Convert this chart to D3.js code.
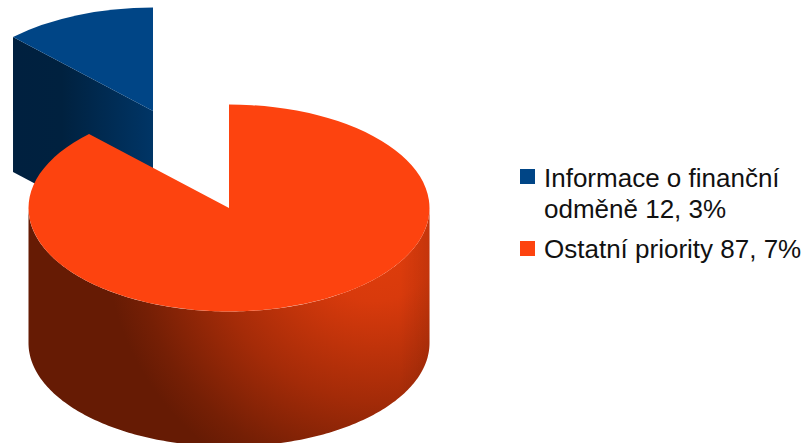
<!DOCTYPE html>
<html><head><meta charset="utf-8">
<script src="https://cdn.jsdelivr.net/npm/d3@7"></script>
<style>html,body{margin:0;padding:0;background:#fff;overflow:hidden}svg{display:block}
text{font-family:"Liberation Sans",Arial,sans-serif;font-size:26px;fill:#111}</style>
</head><body><svg id="c" width="806" height="443"></svg>
<script>
const categories = ["Informace o finanční odměně", "Ostatní priority"];
const values = [12.3, 87.7];
const valueLabels = ["12, 3%", "87, 7%"];
const colors = ["#004586", "#fd430f"];
const legendLines = [["Informace o finanční", "odměně 12, 3%"], ["Ostatní priority 87, 7%"]];

const svg = d3.select("#c");
const rx = 200.5, ry = 103.5, depth = 135;
const centers = [{x:153, y:111}, {x:229, y:208}];

const defs = svg.append("defs");
const gb = defs.append("linearGradient").attr("id","wallBlue").attr("gradientUnits","userSpaceOnUse")
  .attr("x1",13).attr("y1",0).attr("x2",153).attr("y2",0);
[[0,"#00203f"],[0.35,"#00213f"],[1,"#003566"]].forEach(s=>gb.append("stop").attr("offset",s[0]).attr("stop-color",s[1]));
const go = defs.append("radialGradient").attr("id","wallOrange").attr("gradientUnits","userSpaceOnUse")
  .attr("cx",375).attr("cy",235).attr("r",300);
[[0,"#e23e0c"],[0.22,"#d83a0c"],[0.55,"#a42b08"],[0.8,"#751f05"],[0.9,"#661b04"],[1,"#661b04"]].forEach(s=>go.append("stop").attr("offset",s[0]).attr("stop-color",s[1]));
const ge = defs.append("linearGradient").attr("id","wallEdge").attr("gradientUnits","userSpaceOnUse")
  .attr("x1",400).attr("y1",0).attr("x2",430).attr("y2",0);
[[0,"#000",0],[1,"#000",0.1]].forEach(s=>ge.append("stop").attr("offset",s[0]).attr("stop-color",s[1]).attr("stop-opacity",s[2]));

const share0 = values[0] / d3.sum(values) * 2 * Math.PI;
const pie = d3.pie().sort(null).value(d=>d).startAngle(-share0).endAngle(2*Math.PI - share0);
const arcs = pie(values);
const arcGen = d3.arc().innerRadius(0).outerRadius(rx);
const pt = (c,a,dy=0)=>[c.x + rx*Math.sin(a), c.y - ry*Math.cos(a) + dy];
const poly = d3.line();

const bc = centers[0], ba = arcs[0].startAngle;
svg.append("path").attr("fill","url(#wallBlue)")
  .attr("d", poly([pt(bc,ba), [bc.x,bc.y], [bc.x,bc.y+depth], pt(bc,ba,depth)])+"Z");
svg.append("path").attr("fill",colors[0])
  .attr("transform",`translate(${bc.x},${bc.y}) scale(1,${ry/rx})`)
  .attr("d",arcGen(arcs[0]));

const oc = centers[1];
const sweep = d3.range(0,181).map(i=>Math.PI/2 + i*Math.PI/180);
const wall = sweep.map(a=>pt(oc,a,depth)).concat(sweep.slice().reverse().map(a=>pt(oc,a)));
const wallD = poly(wall)+"Z";
svg.append("path").attr("fill","url(#wallOrange)").attr("d",wallD);
svg.append("path").attr("fill","url(#wallEdge)").attr("d",wallD);
svg.append("path").attr("fill",colors[1])
  .attr("transform",`translate(${oc.x},${oc.y}) scale(1,${ry/rx})`)
  .attr("d",arcGen(arcs[1]));

const sq = 15, lx = 520, tx = 544;
const rows = [{y:169, base:[187,218]}, {y:241, base:[258]}];
rows.forEach((r,i)=>{
  svg.append("rect").attr("x",lx).attr("y",r.y).attr("width",sq).attr("height",sq).attr("fill",colors[i]);
  legendLines[i].forEach((t,j)=>svg.append("text").attr("x",tx).attr("y",r.base[j]).text(t));
});
</script></body></html>
